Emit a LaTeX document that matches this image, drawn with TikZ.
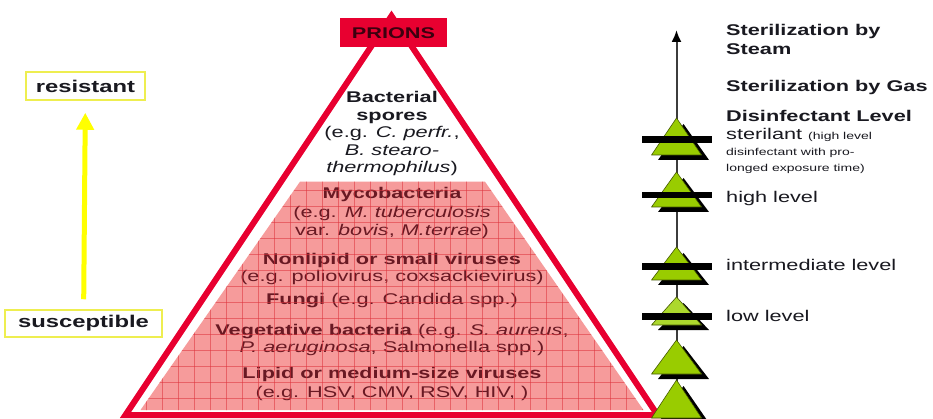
\documentclass[tikz,border=0pt]{standalone}
\usepackage{fontspec}
\setmainfont[FakeStretch=1.4]{Liberation Sans}
\usetikzlibrary{arrows.meta}
\definecolor{prred}{RGB}{232,0,48}
\definecolor{pinkfill}{RGB}{246,155,155}
\definecolor{gridred}{RGB}{222,50,60}
\definecolor{maroon}{RGB}{105,25,35}
\definecolor{ink}{RGB}{25,25,32}
\definecolor{lgreen}{RGB}{153,204,0}
\definecolor{lgreenb}{RGB}{172,216,45}
\definecolor{tedge}{RGB}{70,90,0}
\definecolor{ybox}{RGB}{238,238,80}
\definecolor{yarr}{RGB}{255,255,0}
\definecolor{vline}{RGB}{60,60,60}
\begin{document}
\begin{tikzpicture}[x=1pt,y=-1pt,
  txt/.style={inner sep=0pt, anchor=base, font=\fontsize{15.5}{18}\selectfont},
  pyr/.style={txt, text=maroon},
  toptxt/.style={txt, text=ink},
  rlab/.style={inner sep=0pt, anchor=base west, text=ink, font=\fontsize{15.5}{18}\selectfont},
  rsmall/.style={inner sep=0pt, anchor=base west, text=ink, font=\fontsize{10}{12}\selectfont},
  ylabel/.style={draw=ybox, line width=1.5pt, inner sep=0pt, text=ink, font=\fontsize{17}{20}\selectfont\bfseries},
  grn/.style={fill=lgreen, draw=tedge, line width=0.6pt, line join=round},
  bar/.style={fill=black}
]
\useasboundingbox (0,0) rectangle (933,419);
\fill[white] (0,0) rectangle (933,419);

% ---------- pyramid ----------
\fill[pinkfill] (300,181.7) -- (485,181.7) -- (643.5,410) -- (140.5,410) -- cycle;

% texts in upper white part
\node[toptxt] (t1) at (392,103) {\bfseries Bacterial};
\node[toptxt] (t2) at (392,121) {\bfseries spores};
\node[toptxt] (t3) at (392,138) {(e.g. \textit{C. perfr.},};
\node[toptxt] (t4) at (392,156) {\textit{B. stearo-}};
\node[toptxt] (t5) at (392,173) {\textit{thermophilus})};

% texts in pink part
\node[pyr] (m1) at (392,199) {\bfseries Mycobacteria};
\node[pyr] (m2) at (392,218) {(e.g. \textit{M. tuberculosis}};
\node[pyr] (m3) at (392,236) {var. \textit{bovis}, \textit{M.terrae})};
\node[pyr] (n1) at (392,265) {\bfseries Nonlipid or small viruses};
\node[pyr] (n2) at (392,282) {(e.g. poliovirus, coxsackievirus)};
\node[pyr] (f1) at (392,305) {\textbf{Fungi} (e.g. Candida spp.)};
\node[pyr] (v1) at (392,335) {\textbf{Vegetative bacteria} (e.g. \textit{S. aureus},};
\node[pyr] (v2) at (392,352) {\textit{P. aeruginosa}, Salmonella spp.)};
\node[pyr] (l1) at (392,378) {\bfseries Lipid or medium-size viruses};
\node[pyr] (l2) at (392,397) {(e.g. HSV, CMV, RSV, HIV, )};

% grid over the pink part
\begin{scope}
  \clip (300,181.7) -- (485,181.7) -- (643.5,410) -- (140.5,410) -- cycle;
  \foreach \gx in {146,162,...,642} \draw[gridred, line width=0.7pt, opacity=0.55] (\gx,180) -- (\gx,411);
  \foreach \gy in {190,206,...,410} \draw[gridred, line width=0.7pt, opacity=0.55] (139,\gy) -- (645,\gy);
\end{scope}

% red outline
\draw[prred, line width=6pt, line join=miter] (391.5,16) -- (125.5,415) -- (657.5,415) -- cycle;

% PRIONS box
\node[fill=prred, minimum width=107pt, minimum height=29pt, inner sep=0pt,
      text={rgb,255:red,60;green,0;blue,15}, font=\fontsize{15.5}{18}\selectfont\bfseries]
      (prions) at (393.5,32.7) {PRIONS};

% ---------- left scale ----------
\node[ylabel, minimum width=119pt, minimum height=28pt] (res) at (85.5,86) {resistant};
\node[ylabel, minimum width=157pt, minimum height=27pt] (sus) at (83.5,323.5) {susceptible};
\draw[yarr, line width=5pt, shorten <=10pt, shorten >=12pt,
      -{Triangle[width=17pt,length=17pt]}] (sus) -- (res);

% ---------- right scale ----------
\coordinate (vbot) at (676.5,385);
\coordinate (vtop) at (676.5,30);
\draw[vline, line width=2pt, -{Latex[length=12pt,width=10pt,black]}] (vbot) -- (vtop);

\foreach \a/\b in {118/155, 172/207, 247/280, 340/374, 380/418} {
  \fill[black] (683.5,{\a+6}) -- (709,{\b+5}) -- (658,{\b+5}) -- cycle;
  \filldraw[grn] (676.5,\a) -- (701.5,\b) -- (651.5,\b) -- cycle;
}
\fill[black] (683.5,303) -- (709,330) -- (658,330) -- cycle;
\filldraw[grn, fill=lgreenb] (676.5,297) -- (701.5,325) -- (651.5,325) -- cycle;

\fill[bar] (642,136) rectangle (712,142.6);
\fill[bar] (642,191.7) rectangle (712,198.3);
\fill[bar] (642,263.4) rectangle (712,270);
\fill[bar] (642,313.4) rectangle (712,320);

\node[rlab] (s1) at (726,36) {\bfseries Sterilization by};
\node[rlab] (s2) at (726,55) {\bfseries Steam};
\node[rlab] (s3) at (726,92) {\bfseries Sterilization by Gas};
\node[rlab] (s4) at (726,122) {\bfseries Disinfectant Level};
\node[rlab] (s5) at (726,140) {sterilant {\fontsize{10}{12}\selectfont (high level}};
\node[rsmall] (s6) at (726,156) {disinfectant with pro-};
\node[rsmall] (s7) at (726,172) {longed exposure time)};
\node[rlab] (s8) at (726,203) {high level};
\node[rlab] (s9) at (726,271) {intermediate level};
\node[rlab] (s10) at (726,321) {low level};
\end{tikzpicture}
\end{document}
